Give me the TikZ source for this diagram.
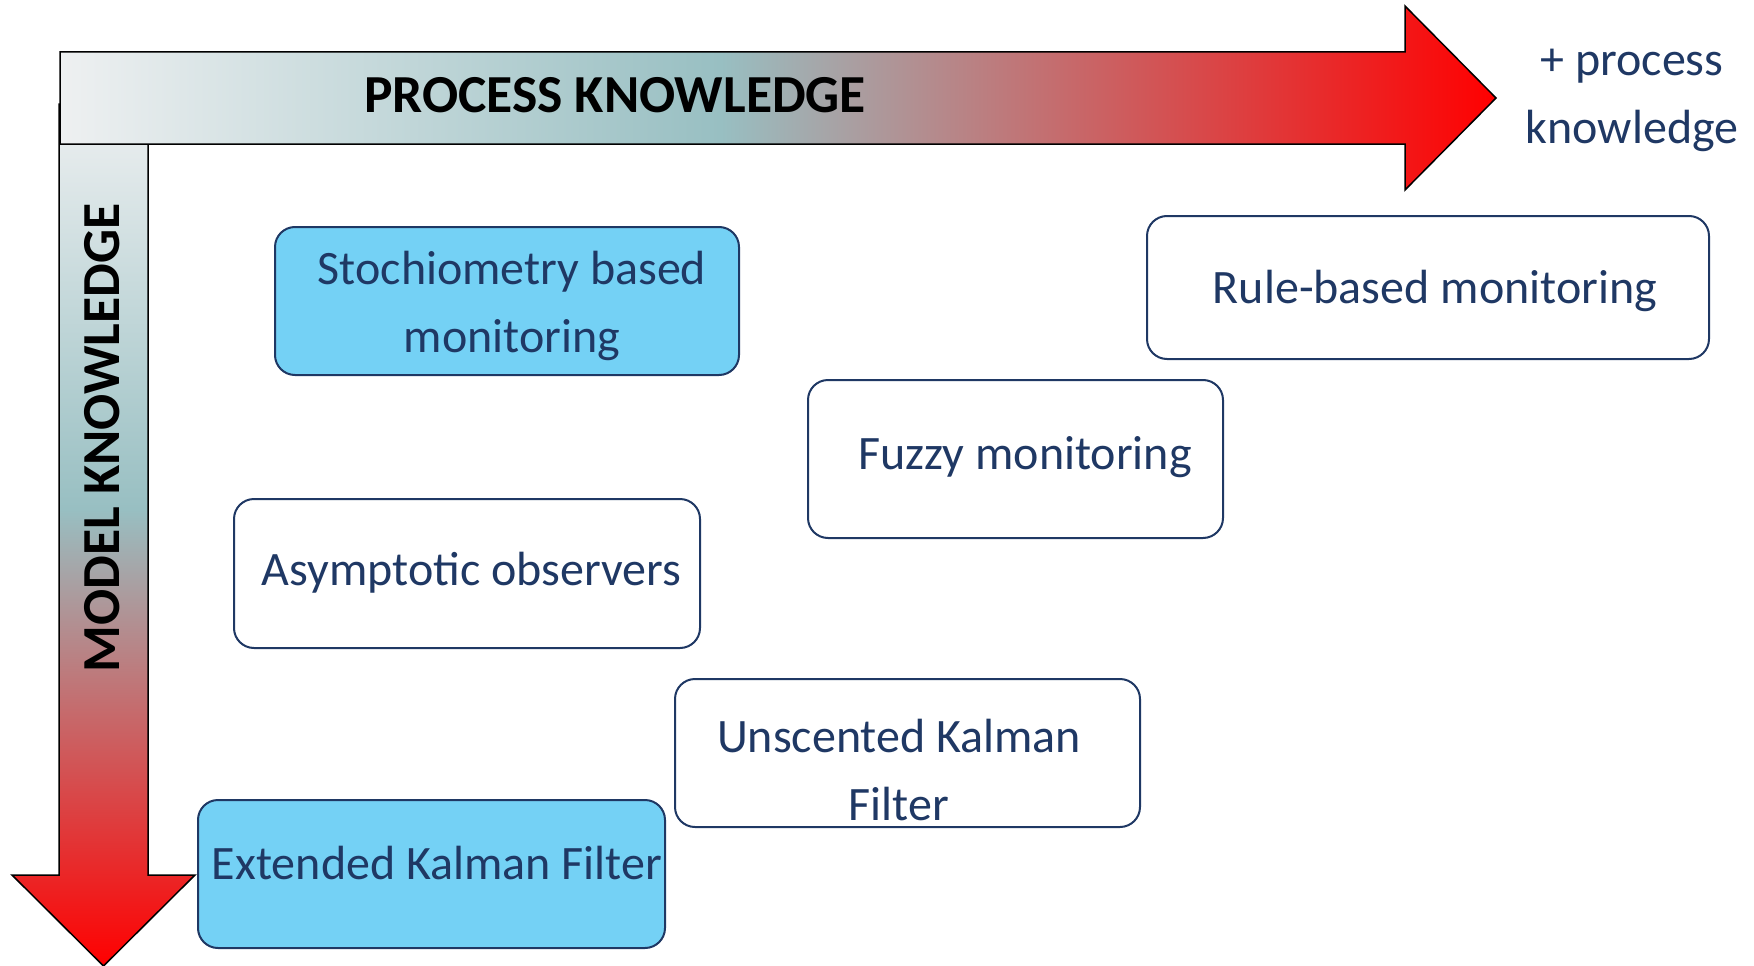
\documentclass[tikz,border=0pt]{standalone}
\usepackage{fontspec}
\setmainfont{Carlito}
\definecolor{navy}{HTML}{1F3864}
\definecolor{boxblue}{HTML}{74D1F5}
\definecolor{cstart}{HTML}{EEF0F1}
\definecolor{cteal}{HTML}{98BFC2}
\definecolor{cred}{HTML}{FF0000}
\pgfdeclarehorizontalshading{pkshade}{100bp}{color(0bp)=(cstart); color(25bp)=(cstart); color(48bp)=(cteal); color(75bp)=(cred); color(100bp)=(cred)}
\pgfdeclareverticalshading{mkshade}{100bp}{color(0bp)=(cred); color(25bp)=(cred); color(51.5bp)=(cteal); color(75bp)=(cstart); color(100bp)=(cstart)}
\tikzset{
  mbox/.style={draw=navy, line width=2pt, rounded corners=20pt, inner sep=0pt},
  bluebox/.style={mbox, fill=boxblue},
  whitebox/.style={mbox, fill=white},
  mtext/.style={text=navy, inner sep=0pt, anchor=base, align=center, font=\fontsize{48}{68}\selectfont},
  axtext/.style={text=black, inner sep=0pt, anchor=base, font=\fontsize{53.5}{64}\selectfont\bfseries},
  bigarrow/.style={draw=black, line width=1.5pt, line join=miter}
}
\begin{document}
\begin{tikzpicture}[x=1pt, y=-1pt]
\useasboundingbox (0,0) rectangle (1754,966);
% vertical arrow (model knowledge)
\path[bigarrow, shading=mkshade] (59,104) -- (148,104) -- (148,875) -- (195,875) -- (103.5,966) -- (12,875) -- (59,875) -- cycle;
% horizontal arrow (process knowledge)
\path[bigarrow, shading=pkshade] (60,52) -- (1405,52) -- (1405,6) -- (1496,98) -- (1405,190) -- (1405,144) -- (60,144) -- cycle;
\node[axtext] (pk) at (615,113) {PROCESS KNOWLEDGE};
\node[axtext, rotate=90] (mk) at (119,438) {MODEL KNOWLEDGE};
\node[mtext] (plus) at (1632,143) {+ process\\knowledge};
% boxes
\node[bluebox, minimum width=464pt, minimum height=148pt] (stoch) at (507,301) {};
\node[mtext] (stochT) at (512,352) {Stochiometry based\\monitoring};
\node[whitebox, minimum width=562pt, minimum height=143pt] (rule) at (1428,287.5) {};
\node[mtext] (ruleT) at (1435,303) {Rule-based monitoring};
\node[whitebox, minimum width=415pt, minimum height=158pt] (fuzzy) at (1015.5,459) {};
\node[mtext] (fuzzyT) at (1025,469) {Fuzzy monitoring};
\node[whitebox, minimum width=466pt, minimum height=149pt] (asym) at (467,573.5) {};
\node[mtext] (asymT) at (471.5,585) {Asymptotic observers};
\node[whitebox, minimum width=465pt, minimum height=148pt] (ukf) at (907.5,753) {};
\node[mtext] (ukfT) at (899,820) {Unscented Kalman\\Filter};
\node[bluebox, minimum width=467pt, minimum height=148pt] (ekf) at (431.5,874) {};
\node[mtext] (ekfT) at (437,879) {Extended Kalman Filter};
\end{tikzpicture}
\end{document}
